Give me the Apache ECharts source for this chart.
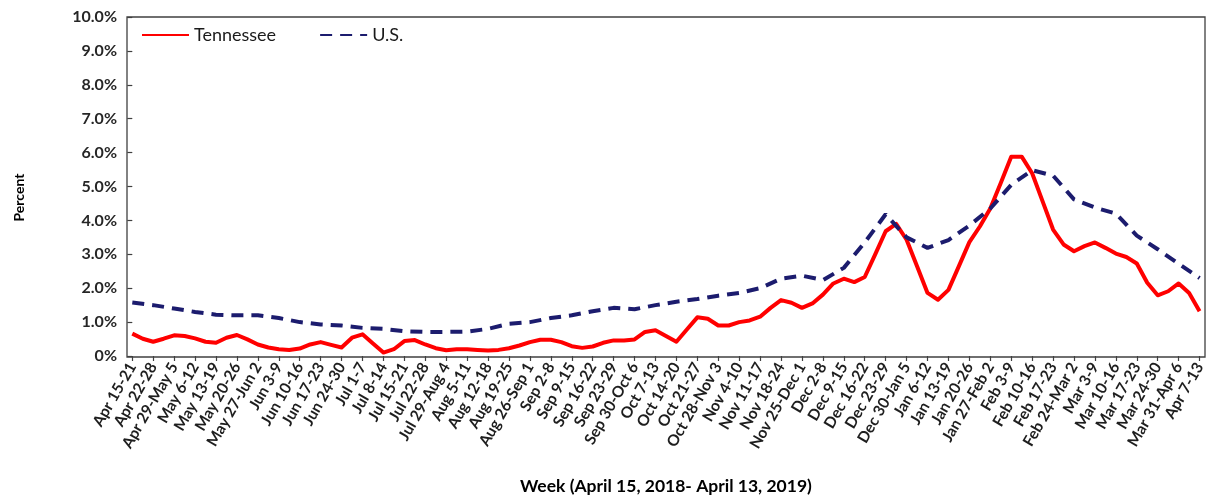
<!DOCTYPE html>
<html>
<head>
<meta charset="utf-8">
<script src="https://cdn.jsdelivr.net/npm/echarts@6/dist/echarts.min.js"></script>
<style>
html,body{margin:0;padding:0;background:#fff;}
#chart{width:1208px;height:500px;}
</style>
</head>
<body>
<div id="chart"></div>
<script>
// Week categories (x axis)
const weeks = ['Apr 15-21','Apr 22-28','Apr 29-May 5','May 6-12','May 13-19','May 20-26','May 27-Jun 2',
  'Jun 3-9','Jun 10-16','Jun 17-23','Jun 24-30','Jul 1-7','Jul 8-14','Jul 15-21','Jul 22-28','Jul 29-Aug 4',
  'Aug 5-11','Aug 12-18','Aug 19-25','Aug 26-Sep 1','Sep 2-8','Sep 9-15','Sep 16-22','Sep 23-29','Sep 30-Oct 6',
  'Oct 7-13','Oct 14-20','Oct 21-27','Oct 28-Nov 3','Nov 4-10','Nov 11-17','Nov 18-24','Nov 25-Dec 1',
  'Dec 2-8','Dec 9-15','Dec 16-22','Dec 23-29','Dec 30-Jan 5','Jan 6-12','Jan 13-19','Jan 20-26','Jan 27-Feb 2',
  'Feb 3-9','Feb 10-16','Feb 17-23','Feb 24-Mar 2','Mar 3-9','Mar 10-16','Mar 17-23','Mar 24-30','Mar 31-Apr 6','Apr 7-13'];

// Y tick labels (index = percent value)
const yTickLabels = ['0%','1.0%','2.0%','3.0%','4.0%','5.0%','6.0%','7.0%','8.0%','9.0%','10.0%'];

// Tennessee, read at half-week steps (first value = Apr 15-21, last = Apr 7-13)
const tennessee = [
  0.66,0.51,0.42,0.51,0.61,0.59,0.52,0.42,0.39,0.54,
  0.62,0.49,0.34,0.25,0.20,0.18,0.22,0.34,0.41,0.33,
  0.25,0.54,0.64,0.37,0.10,0.20,0.44,0.47,0.34,0.23,
  0.17,0.20,0.20,0.18,0.16,0.18,0.23,0.31,0.41,0.48,
  0.48,0.41,0.29,0.24,0.28,0.39,0.46,0.46,0.49,0.71,
  0.76,0.59,0.42,0.78,1.14,1.10,0.90,0.90,1.00,1.05,
  1.16,1.42,1.65,1.57,1.42,1.55,1.81,2.14,2.28,2.18,
  2.33,3.00,3.68,3.90,3.43,2.65,1.86,1.66,1.95,2.65,
  3.36,3.82,4.35,5.10,5.88,5.88,5.39,4.56,3.73,3.29,
  3.09,3.24,3.35,3.19,3.02,2.92,2.73,2.16,1.79,1.91,
  2.14,1.86,1.32
];

// U.S., weekly
const us = [
  1.58,1.50,1.40,1.30,1.22,1.20,1.20,1.12,1.00,0.93,
  0.90,0.83,0.80,0.73,0.71,0.71,0.72,0.80,0.95,1.00,
  1.12,1.20,1.32,1.42,1.38,1.50,1.60,1.68,1.78,1.86,
  2.00,2.28,2.37,2.24,2.60,3.35,4.18,3.50,3.19,3.42,
  3.85,4.35,5.05,5.48,5.32,4.62,4.38,4.20,3.55,3.15,
  2.72,2.30
];

const chart = echarts.init(document.getElementById('chart'), null, {renderer:'canvas'});
const font = 'Lato, "Open Sans", sans-serif';

chart.setOption({
  animation: false,
  backgroundColor: '#ffffff',
  grid: {left: 132.3, right: 7.3, top: 17, bottom: 143},
  legend: {
    left: 136, top: 21,
    itemWidth: 47, itemHeight: 14, itemGap: 43,
    itemStyle: {opacity: 0},
    textStyle: {fontFamily: font, fontSize: 18, color: '#1a1a1a'},
    data: ['Tennessee', 'U.S.']
  },
  graphic: [{
    type: 'rect', silent: true, z: 50,
    shape: {x: 127, y: 17, width: 1078, height: 340},
    style: {fill: null, stroke: '#404040', lineWidth: 1.3}
  }],
  xAxis: {
    type: 'value', min: 0, max: 51, interval: 1,
    axisLine: {show: false},
    splitLine: {show: false},
    axisTick: {show: true, length: 5, lineStyle: {color: '#404040', width: 1.2}},
    axisLabel: {
      rotate: 60, margin: 8, fontFamily: font, fontSize: 15.5, fontWeight: 'bold', color: '#1e1e1e',
      formatter: v => (weeks[v] !== undefined ? weeks[v] : '')
    },
    name: 'Week (April 15, 2018- April 13, 2019)',
    nameLocation: 'middle', nameGap: 121,
    nameTextStyle: {fontFamily: font, fontSize: 17.5, fontWeight: 'bold', color: '#000'}
  },
  yAxis: {
    type: 'value', min: 0, max: 10, interval: 1, offset: 5.3,
    axisLine: {show: false},
    splitLine: {show: false},
    axisTick: {show: true, length: 5, lineStyle: {color: '#404040', width: 1.2}},
    axisLabel: {
      margin: 10, fontFamily: font, fontSize: 16, fontWeight: 'bold', color: '#262626',
      formatter: v => yTickLabels[v]
    },
    name: 'Percent', nameLocation: 'middle', nameGap: 101, nameRotate: 90,
    nameTextStyle: {fontFamily: font, fontSize: 14, fontWeight: 'bold', color: '#000', padding: [0, 22, 0, 0]}
  },
  series: [
    {
      name: 'Tennessee', type: 'line', symbol: 'none',
      data: tennessee.map((v, k) => [k / 2, v]),
      lineStyle: {color: '#FF0000', width: 4, join: 'round'},
      itemStyle: {color: '#FF0000'}
    },
    {
      name: 'U.S.', type: 'line', symbol: 'none',
      data: us.map((v, k) => [k, v]),
      lineStyle: {color: '#1C1C6E', width: 4, type: [12, 8]},
      itemStyle: {color: '#1C1C6E'}
    }
  ]
});
</script>
</body>
</html>
